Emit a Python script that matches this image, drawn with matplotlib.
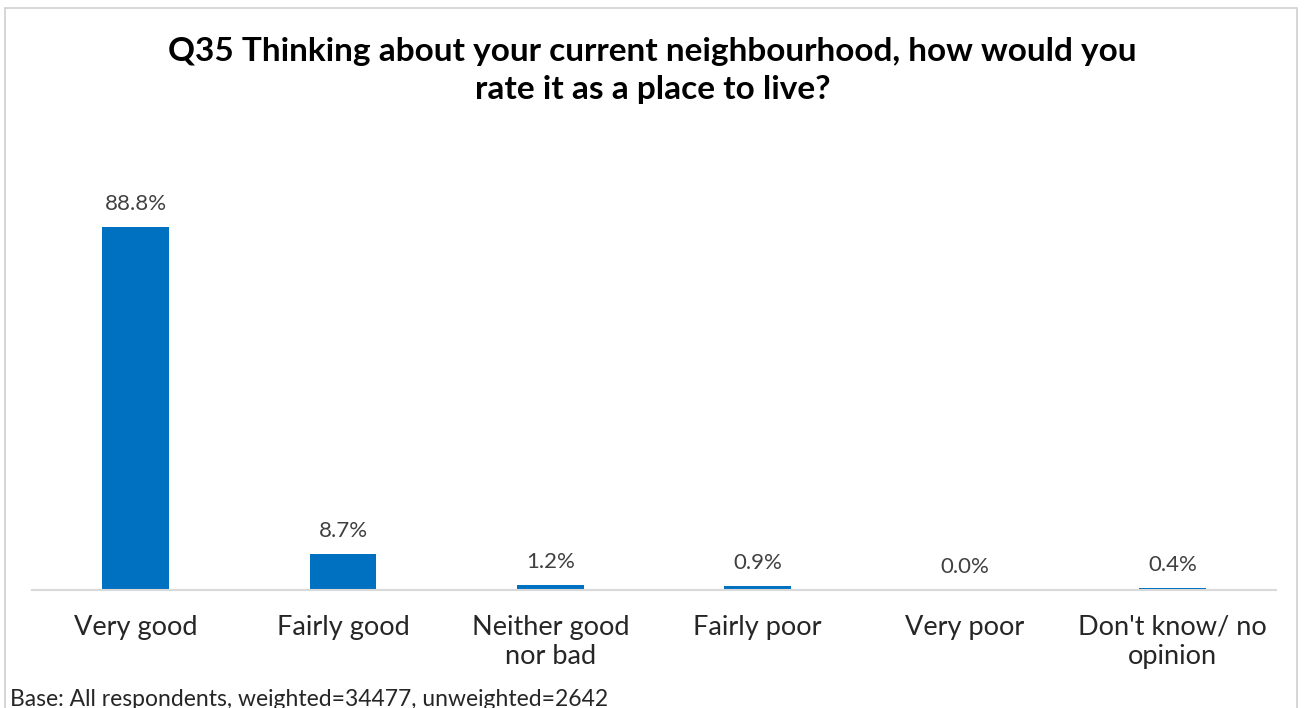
import matplotlib
matplotlib.use("Agg")
import matplotlib.pyplot as plt
from matplotlib.patches import Rectangle

categories = ["Very good", "Fairly good", "Neither good\nnor bad", "Fairly poor", "Very poor", "Don't know/ no\nopinion"]
values = [88.8, 8.7, 1.2, 0.9, 0.0, 0.4]
labels = ["88.8%", "8.7%", "1.2%", "0.9%", "0.0%", "0.4%"]

plt.rcParams['font.family'] = ['Lato', 'DejaVu Sans']

fig = plt.figure(figsize=(13.05, 7.08), dpi=100)
# outer frame
fig.patches.append(Rectangle((0.004, -0.01), 0.99, 0.998, transform=fig.transFigure,
                             fill=False, edgecolor="#d0d0d0", lw=1.2))

ax = fig.add_axes([32 / 1305, 118 / 708, 1244 / 1305, 409 / 708])
x = range(len(categories))
ax.bar(x, values, width=0.32, color="#0070c0")
for i, v in enumerate(values):
    ax.text(i, v + 3.2, labels[i], ha="center", va="bottom", fontsize=16, color="#404040")

ax.set_xlim(-0.5, len(categories) - 0.5)
ax.set_ylim(0, 100)
ax.set_yticks([])
ax.set_xticks(list(x))
ax.set_xticklabels(categories, fontsize=19.5, color="#262626", linespacing=1.2)
ax.tick_params(axis="x", length=0, pad=18)
for s in ["top", "right", "left"]:
    ax.spines[s].set_visible(False)
ax.spines["bottom"].set_color("#d9d9d9")
ax.spines["bottom"].set_linewidth(1.5)

fig.text(0.5, 0.948, "Q35 Thinking about your current neighbourhood, how would you\nrate it as a place to live?",
         ha="center", va="top", fontsize=24, fontweight="bold", color="#000000", linespacing=1.38)
fig.text(10 / 1305, 9 / 708, "Base: All respondents, weighted=34477, unweighted=2642",
         ha="left", va="center", fontsize=16.5, color="#262626")

fig.savefig("out.png", dpi=100)
